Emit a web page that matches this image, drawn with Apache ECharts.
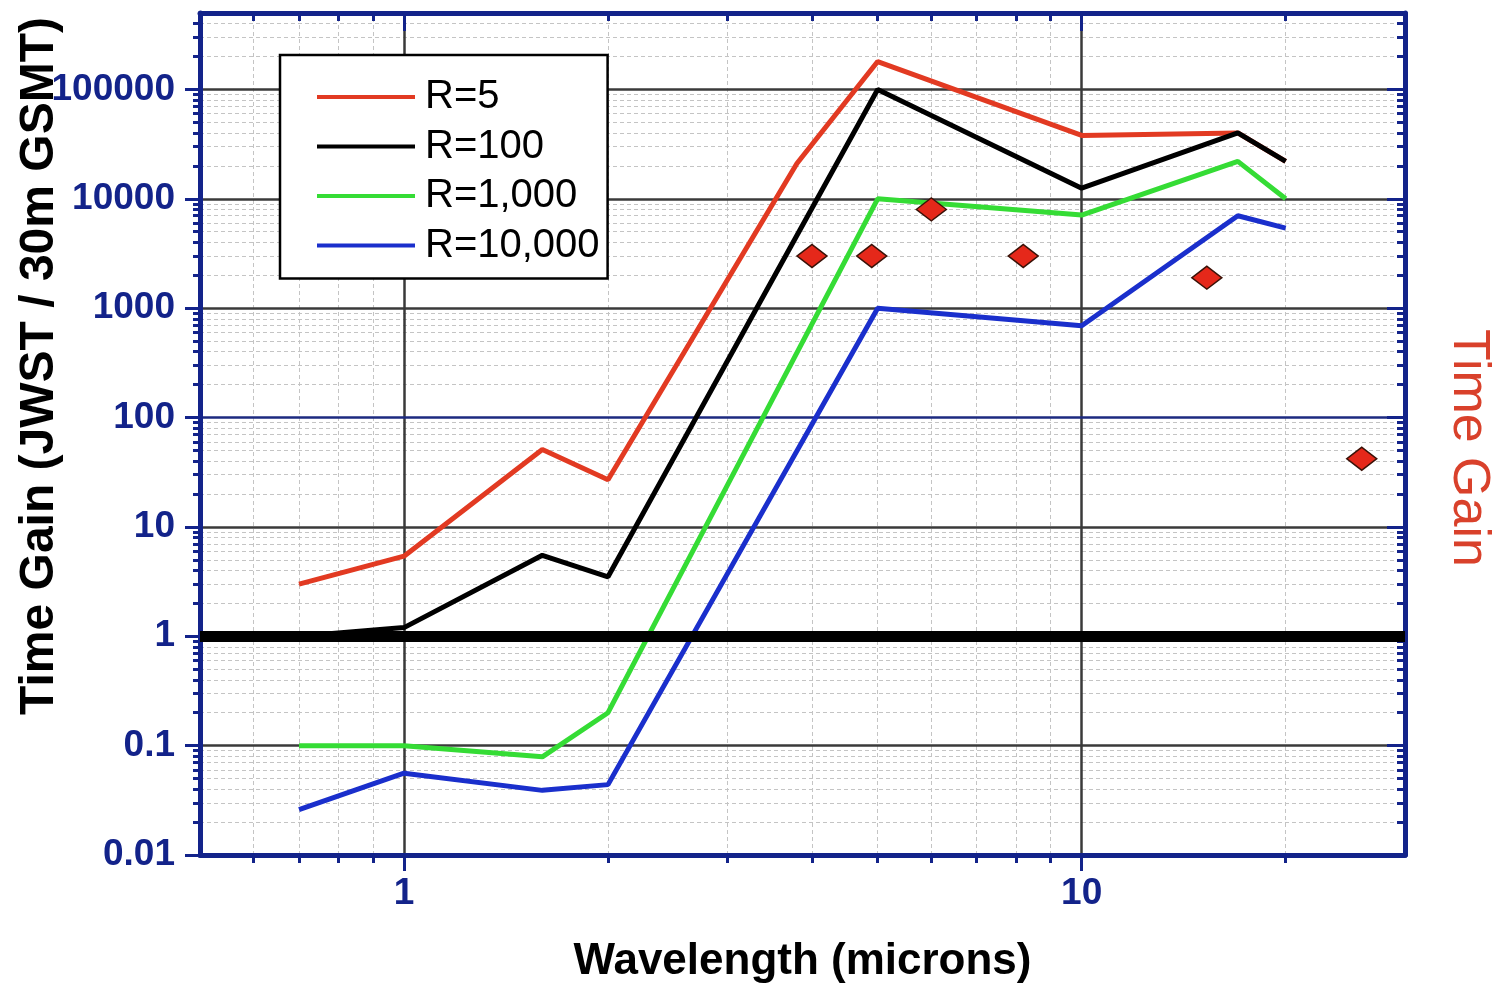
<!DOCTYPE html>
<html>
<head>
<meta charset="utf-8">
<title>Time Gain vs Wavelength</title>
<script src="https://cdn.jsdelivr.net/npm/echarts@6/dist/echarts.min.js"></script>
<style>
  html, body { margin: 0; padding: 0; background: #fff; }
  #chart { width: 1501px; height: 993px; }
</style>
</head>
<body>
<div id="chart"></div>
<script>
// wavelength (microns) of the curve vertices
const wavelengths = [0.7, 1.0, 1.6, 2.0, 3.8, 5.0, 10, 17, 20];
// time gain for each resolution, null = no vertex there
const gainR5     = [3, 5.4, 51, 27, 21000, 180000, 38000, 40000, 22000];
const gainR100   = [1, 1.2, 5.5, 3.5, null, 100000, 12500, 40000, 22000];
const gainR1000  = [0.1, 0.1, 0.079, 0.2, null, 10000, 7100, 22000, 10000];
const gainR10000 = [0.026, 0.056, 0.039, 0.044, null, 1000, 690, 7000, 5400];

// separate points (red diamonds, right scale "Time Gain")
const pointWave = [4.0, 4.9, 6.0, 8.2, 15.3, 25.9];
const pointGain = [3000, 3000, 8000, 3000, 1900, 42];

const seriesNames  = ['R=5', 'R=100', 'R=1,000', 'R=10,000'];
const seriesColors = ['#e23a22', '#000000', '#35dc35', '#1a2fcc'];

// ticks
const xMajor = [1, 10];
const xMinor = [0.6, 0.7, 0.8, 0.9, 2, 3, 4, 5, 6, 7, 8, 9, 20];
const yMajor = [0.01, 0.1, 1, 10, 100, 1000, 10000, 100000];
const yMinor = [];
for (let d = -2; d <= 5; d++) {
    for (let k = 2; k <= 9; k++) {
        let v = +(k * Math.pow(10, d)).toPrecision(3);
        if (v < 5e5) yMinor.push(v);
    }
}

const navy = '#13238a';
const font = 'Liberation Sans';

function pairs(xs, ys) {
    let out = [];
    for (let i = 0; i < xs.length; i++) {
        if (ys[i] != null) out.push([xs[i], ys[i]]);
    }
    return out;
}

// one log axis per tick style (major / minor, each side)
function logAxis(position, min, max, ticks, len, inside, withLine) {
    return {
        type: 'log',
        logBase: 10,
        position: position,
        min: min,
        max: max,
        z: 4,
        axisLine: { show: withLine, lineStyle: { color: navy, width: 5 } },
        axisTick: {
            show: true, customValues: ticks, length: len, inside: inside,
            lineStyle: { color: navy, width: 3 }
        },
        axisLabel: { show: false },
        splitLine: { show: false },
        minorTick: { show: false }
    };
}

let xBottom = logAxis('bottom', 0.5, 30, xMajor, 16, false, true);
xBottom.axisLabel = {
    show: true, customValues: xMajor, margin: 20,
    formatter: v => String(v),
    color: navy, fontFamily: font, fontWeight: 'bold', fontSize: 37
};
xBottom.name = 'Wavelength (microns)';
xBottom.nameLocation = 'middle';
xBottom.nameGap = 85;
xBottom.nameTextStyle = { color: '#000', fontFamily: font, fontWeight: 'bold', fontSize: 44 };

let yLeft = logAxis('left', 0.01, 5e5, yMajor, 15, false, true);
yLeft.axisLabel = {
    show: true, customValues: yMajor, margin: 25,
    formatter: v => String(v),
    color: navy, fontFamily: font, fontWeight: 'bold', fontSize: 37
};

const xAxes = [
    xBottom,
    logAxis('bottom', 0.5, 30, xMinor, 8, false, false),
    logAxis('top', 0.5, 30, xMajor, 18, true, true),
    logAxis('top', 0.5, 30, xMinor, 8, true, false)
];
const yAxes = [
    yLeft,
    logAxis('left', 0.01, 5e5, yMinor, 7, false, false),
    logAxis('right', 0.01, 5e5, yMajor, 18, true, true),
    logAxis('right', 0.01, 5e5, yMinor, 8, true, false)
];

// grid lines as mark lines (log spaced minor lines)
const minorStyle = { color: '#c4c4c4', width: 1, type: [4, 3] };
const majorStyle = { color: '#3a3a3a', width: 2.5, type: 'solid' };
let minorLines = [];
xMinor.forEach(v => minorLines.push({ xAxis: v }));
yMinor.forEach(v => minorLines.push({ yAxis: v }));
let majorLines = [];
xMajor.forEach(v => majorLines.push({ xAxis: v }));
yMajor.slice(1).forEach(v => {
    let item = { yAxis: v };
    if (v === 100) item.lineStyle = { color: '#1c2a80' };
    majorLines.push(item);
});

function gridSeries(lines, style, z) {
    return {
        type: 'line', data: [], silent: true,
        markLine: {
            silent: true, z: z, symbol: ['none', 'none'],
            label: { show: false }, emphasis: { disabled: true },
            lineStyle: style, data: lines
        }
    };
}

const gainLists = [gainR5, gainR100, gainR1000, gainR10000];
let series = [
    gridSeries(minorLines, minorStyle, 1),
    gridSeries(majorLines, majorStyle, 1),
    gridSeries([{ yAxis: 1 }], { color: '#000', width: 11, type: 'solid' }, 5)
];
for (let i = 0; i < seriesNames.length; i++) {
    series.push({
        name: seriesNames[i],
        type: 'line',
        data: pairs(wavelengths, gainLists[i]),
        symbol: 'none',
        color: seriesColors[i],
        lineStyle: { color: seriesColors[i], width: 5 },
        z: 2
    });
}
series.push({
    name: 'Time Gain',
    type: 'scatter',
    data: pairs(pointWave, pointGain),
    symbol: 'diamond',
    symbolSize: [30, 23],
    itemStyle: { color: '#e5281a', borderColor: '#3a1208', borderWidth: 1.5, opacity: 1 },
    z: 3
});

let chart = echarts.init(document.getElementById('chart'));
let option = {
    animation: false,
    backgroundColor: '#fff',
    grid: { left: 200, right: 96, top: 13, bottom: 138, containLabel: false, outerBoundsMode: 'none' },
    xAxis: xAxes,
    yAxis: yAxes,
    legend: {
        data: seriesNames,
        orient: 'vertical',
        left: 280,
        top: 55,
        padding: [22, 8, 13, 35],
        itemGap: 9.5,
        itemWidth: 98,
        itemHeight: 14,
        backgroundColor: '#fff',
        borderColor: '#000',
        borderWidth: 2.5,
        borderRadius: 0,
        lineStyle: { width: 4 },
        itemStyle: { color: 'rgba(0,0,0,0)', borderWidth: 0 },
        selectedMode: false,
        textStyle: { fontFamily: font, fontSize: 40, color: '#000', lineHeight: 40, padding: [0, 0, 0, 5] },
        z: 6
    },
    graphic: [
        {
            type: 'text', x: 40, y: 366, rotation: Math.PI / 2, z: 10,
            style: {
                text: 'Time Gain (JWST / 30m GSMT)', fill: '#000',
                font: 'bold 48px "Liberation Sans"', align: 'center', verticalAlign: 'middle'
            }
        },
        {
            type: 'text', x: 1468, y: 448, rotation: -Math.PI / 2, z: 10,
            style: {
                text: 'Time Gain', fill: '#d9412b',
                font: '52px "Liberation Sans"', align: 'center', verticalAlign: 'middle'
            }
        }
    ],
    series: series
};
chart.setOption(option, true);
window.addEventListener('resize', function () {
    chart.resize();
});
</script>
</body>
</html>
